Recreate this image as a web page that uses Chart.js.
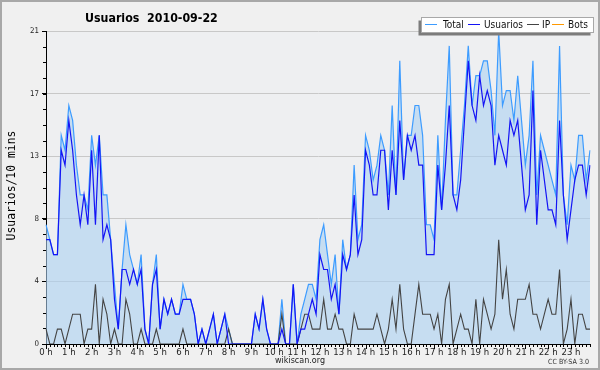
<!DOCTYPE html>
<html>
<head>
<meta charset="utf-8">
<script src="https://cdn.jsdelivr.net/npm/chart.js@4/dist/chart.umd.min.js"></script>
<style>
html,body{margin:0;padding:0;background:#f0f0f0;}
#wrap{width:600px;height:370px;position:relative;}
canvas{display:block;}
</style>
</head>
<body>
<div id="wrap"><canvas id="c" width="600" height="370"></canvas></div>
<script>
// ---- data (10-minute slots, 0 h .. 23 h 50) ----
const hourLabels = ['0 h','1 h','2 h','3 h','4 h','5 h','6 h','7 h','8 h','9 h','10 h','11 h',
  '12 h','13 h','14 h','15 h','16 h','17 h','18 h','19 h','20 h','21 h','22 h','23 h'];
const slotsPerHour = 6;
const yTickLabels = [0, 4, 8, 13, 17, 21];

const total = [
  8,7,6,6,14,13,16,15,12,10, 10,9,14,12,14,10,10,7,4,1,
  5,8,6,5,4,6,1,0,4,6, 1,3,2,3,2,2,4,3,3,2,
  0,1,0,1,2,0,1,2,1,0, 0,0,0,0,0,2,1,3,1,0,
  0,0,3,0,0,4,0,2,3,4, 4,3,7,8,6,4,6,2,7,5,
  6,12,7,8,14,13,11,12,14,13, 10,16,10,19,11,14,14,16,16,14,
  8,8,7,14,9,15,20,10,10,13, 16,20,16,18,18,19,19,17,14,21,
  16,17,17,15,18,15,12,14,19,10, 14,13,12,11,10,20,10,8,12,11,
  14,14,11,13];
const usuarios = [
  7,7,6,6,13,12,15,13,10,8, 10,8,13,8,14,7,8,7,3,1,
  5,5,4,5,4,5,1,0,4,5, 1,3,2,3,2,2,3,3,3,2,
  0,1,0,1,2,0,1,2,0,0, 0,0,0,0,0,2,1,3,1,0,
  0,0,1,0,0,4,0,1,1,2, 3,2,6,5,5,3,4,2,6,5,
  6,10,6,7,13,12,10,10,13,13, 9,13,10,15,11,14,13,14,12,12,
  6,6,6,12,9,12,16,10,9,11, 15,19,16,15,18,16,17,16,12,14,
  13,12,15,14,15,12,9,10,17,8, 13,11,9,9,8,15,10,7,9,11,
  12,12,10,12];
const ip = [
  1,0,0,1,1,0,1,2,2,2, 0,1,1,4,0,3,2,0,1,0,
  0,3,2,0,0,1,0,0,0,1, 0,0,0,0,0,0,1,0,0,0,
  0,0,0,0,0,0,0,0,1,0, 0,0,0,0,0,0,0,0,0,0,
  0,0,2,0,0,0,0,1,2,2, 1,1,1,3,1,1,2,1,1,0,
  0,2,1,1,1,1,1,2,1,0, 1,3,1,4,1,0,0,2,4,2,
  2,2,1,2,0,3,4,0,1,2, 1,1,0,3,0,3,2,1,2,7,
  3,5,2,1,3,3,3,4,2,2, 1,2,3,2,2,5,0,1,3,0,
  2,2,1,1];
const bots = [];

// categories: one per 10-minute slot
const categories = [];
hourLabels.forEach(h => { for (let k = 0; k < slotsPerHour; k++) categories.push(h); });

const FONT = '"DejaVu Sans Condensed", "DejaVu Sans", sans-serif';
const MONO = '"DejaVu Sans Mono", monospace';

// choose font sizes so that text widths match the reference picture
const mctx = document.createElement('canvas').getContext('2d');
function fitSize(text, family, weight, target) {
  mctx.font = weight + ' 40px ' + family;
  return 40 * target / mctx.measureText(text).width;
}
const titleSize = fitSize('Usuarios  2010-09-22', FONT, 'bold', 133);
const legendSize = fitSize('Usuarios', FONT, 'normal', 39);
const xTickSize = fitSize('12 h', FONT, 'normal', 19);
const yTickSize = fitSize('21', FONT, 'normal', 9);
const footSize = fitSize('wikiscan.org', FONT, 'normal', 50);
const ccSize = fitSize('CC BY-SA 3.0', FONT, 'normal', 41);
const yTitleSize = fitSize('Usuarios/10 mins', MONO, 'normal', 110);

const bgPlugin = {
  id: 'bg',
  beforeDraw(chart) {
    const { ctx, chartArea: a } = chart;
    ctx.save();
    ctx.fillStyle = '#f0f0f0';
    ctx.fillRect(0, 0, chart.width, chart.height);
    ctx.fillStyle = '#eeeff1';
    ctx.fillRect(a.left, a.top, a.right - a.left, a.bottom - a.top);
    ctx.restore();
  }
};

const legendX = { line: [425, 468, 527, 552], text: [443, 484, 542, 568] };

const decoPlugin = {
  id: 'deco',
  afterDraw(chart) {
    const { ctx, chartArea: a, scales } = chart;
    const xs = scales.x, ys = scales.y;
    ctx.save();
    // x-axis tick marks, one per slot, longer on the hour
    ctx.strokeStyle = '#000';
    ctx.lineWidth = 1;
    ctx.beginPath();
    for (let i = 0; i < categories.length; i++) {
      const x = Math.round(xs.getPixelForValue(i)) + 0.5;
      const len = (i % slotsPerHour === 0) ? 5 : 3;
      ctx.moveTo(x, a.bottom);
      ctx.lineTo(x, a.bottom + len);
    }
    // y-axis minor ticks
    const step = (ys.max - ys.min) / 20;
    for (let k = 0; k <= 20; k++) {
      const y = Math.round(ys.getPixelForValue(ys.min + k * step)) + 0.5;
      ctx.moveTo(a.left - 3, y);
      ctx.lineTo(a.left, y);
    }
    ctx.stroke();

    // title
    ctx.fillStyle = '#000';
    ctx.font = 'bold ' + titleSize.toFixed(2) + 'px ' + FONT;
    ctx.textAlign = 'left';
    ctx.textBaseline = 'alphabetic';
    ctx.fillText('Usuarios  2010-09-22', 85, 21.5);

    // y-axis title
    ctx.save();
    ctx.translate(12, (a.top + a.bottom) / 2 - 2);
    ctx.rotate(-Math.PI / 2);
    ctx.font = yTitleSize.toFixed(2) + 'px ' + MONO;
    ctx.textAlign = 'center';
    ctx.textBaseline = 'middle';
    ctx.fillStyle = '#000';
    ctx.fillText('Usuarios/10 mins', 0, 0);
    ctx.restore();

    // legend
    const lx = 421.5, ly = 17.5, lw = 172, lh = 15;
    ctx.fillStyle = '#7c7c7c';
    ctx.fillRect(lx - 3, ly + 3, lw, lh);
    ctx.fillStyle = '#ffffff';
    ctx.fillRect(lx, ly, lw, lh);
    ctx.strokeStyle = '#a8a8a8';
    ctx.lineWidth = 1;
    ctx.strokeRect(lx, ly, lw, lh);
    ctx.font = legendSize.toFixed(2) + 'px ' + FONT;
    ctx.textBaseline = 'alphabetic';
    ctx.textAlign = 'left';
    chart.data.datasets.forEach((ds, k) => {
      ctx.strokeStyle = ds.borderColor;
      ctx.beginPath();
      ctx.moveTo(legendX.line[k], 24.5);
      ctx.lineTo(legendX.line[k] + 12, 24.5);
      ctx.stroke();
      ctx.fillStyle = '#111';
      ctx.fillText(ds.label, legendX.text[k], 28);
    });

    // footer texts
    ctx.fillStyle = '#222';
    ctx.font = footSize.toFixed(2) + 'px ' + FONT;
    ctx.textAlign = 'center';
    ctx.fillText('wikiscan.org', 300, 363);
    ctx.font = ccSize.toFixed(2) + 'px ' + FONT;
    ctx.textAlign = 'right';
    ctx.fillStyle = '#333';
    ctx.fillText('CC BY-SA 3.0', 589, 364);

    // frame
    ctx.strokeStyle = '#a8a8a8';
    ctx.lineWidth = 2;
    ctx.strokeRect(1, 1, chart.width - 2, chart.height - 2);
    ctx.restore();
  }
};

new Chart(document.getElementById('c'), {
  type: 'line',
  data: {
    labels: categories,
    datasets: [
      { label: 'Total', data: total, borderColor: '#3d9cff', backgroundColor: 'rgba(171,209,241,0.6)',
        fill: 'origin', borderWidth: 1.2, pointRadius: 0, tension: 0, order: 4 },
      { label: 'Usuarios', data: usuarios, borderColor: '#1414f5', borderWidth: 1.2,
        pointRadius: 0, tension: 0, fill: false, order: 1 },
      { label: 'IP', data: ip, borderColor: '#444444', borderWidth: 1.1,
        pointRadius: 0, tension: 0, fill: false, order: 2 },
      { label: 'Bots', data: bots, borderColor: '#ff9900', borderWidth: 1.1,
        pointRadius: 0, tension: 0, fill: false, order: 3 }
    ]
  },
  options: {
    responsive: false,
    animation: false,
    devicePixelRatio: 1,
    layout: { padding: { left: 0, right: 10, top: 31, bottom: 0 } },
    plugins: { legend: { display: false }, title: { display: false }, tooltip: { enabled: false } },
    scales: {
      x: {
        type: 'category',
        offset: false,
        grid: { display: false, drawTicks: false },
        border: { display: true, color: '#000', width: 1 },
        ticks: {
          autoSkip: false, maxRotation: 0, minRotation: 0, padding: 3,
          color: '#222', font: { family: FONT, size: xTickSize },
          callback: (v, i) => (i % slotsPerHour === 0 ? hourLabels[i / slotsPerHour] : '')
        },
        afterFit(s) { s.height = 26; }
      },
      y: {
        min: 0, max: 21,
        afterBuildTicks(s) {
          s.ticks = yTickLabels.map((t, k) => ({ value: k * (s.max - s.min) / (yTickLabels.length - 1), label: String(t) }));
        },
        ticks: {
          padding: 3, color: '#222', font: { family: FONT, size: yTickSize },
          callback: function (v, i) { return String(yTickLabels[i]); }
        },
        grid: {
          color: c => (c.tick && c.tick.value === 0 ? 'rgba(0,0,0,0)' : '#c8c8c8'),
          tickColor: '#000', tickLength: 4, drawTicks: true
        },
        border: { display: true, color: '#000', width: 1 },
        afterFit(s) { s.width = 46; }
      }
    }
  },
  plugins: [bgPlugin, decoPlugin]
});
</script>
</body>
</html>
